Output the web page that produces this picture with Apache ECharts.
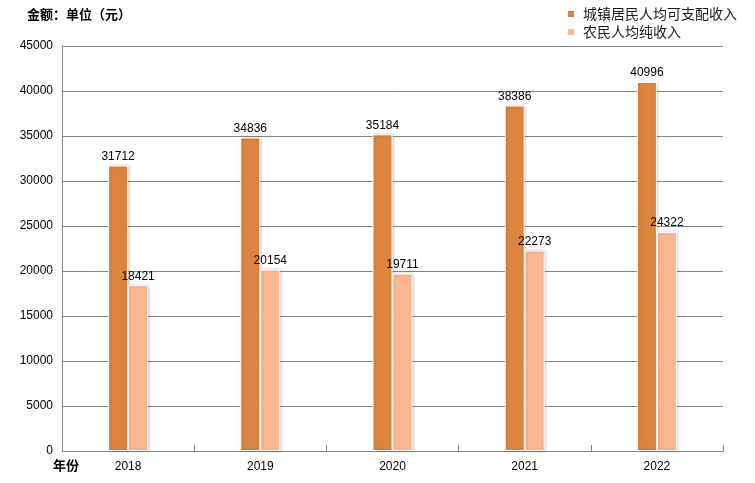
<!DOCTYPE html>
<html><head><meta charset="utf-8">
<script src="https://cdn.jsdelivr.net/npm/echarts@6/dist/echarts.min.js"></script>
<style>html,body{margin:0;padding:0;background:#fff}#c{width:755px;height:483px}</style>
</head><body><div id="c"></div>
<script>
const years = ['2018','2019','2020','2021','2022'];
const urban = [31712, 34836, 35184, 38386, 40996];
const rural = [18421, 20154, 19711, 22273, 24322];
const seriesNames = ['城镇居民人均可支配收入', '农民人均纯收入'];
const yTitle = '金额：单位（元）';
const xTitle = '年份';

const chart = echarts.init(document.getElementById('c'));
const barStyle = (color) => ({
  color: color, borderColor: '#fff', borderWidth: 1,
  shadowColor: 'rgba(0,0,0,0.22)', shadowBlur: 3, shadowOffsetX: 1, shadowOffsetY: 0
});
const lbl = {show: true, position: 'top', distance: 3, color: '#000', fontFamily: 'Liberation Sans', fontSize: 12};
chart.setOption({
  animation: false,
  grid: {left: 62, right: 32, top: 46, bottom: 32},
  legend: {
    orient: 'vertical', left: 566, top: 7, padding: 0, itemWidth: 8, itemHeight: 8, itemGap: 4,
    icon: 'rect',
    textStyle: {fontFamily: 'Noto Sans CJK SC', fontSize: 14, color: '#1a1a1a', padding: [0,0,0,3]},
    data: seriesNames
  },
  graphic: [
    {type: 'text', left: 27, top: 8, style: {text: yTitle, fontFamily: 'Noto Sans CJK SC', fontWeight: 'bold', fontSize: 13, fill: '#000'}},
    {type: 'text', left: 53, top: 459, style: {text: xTitle, fontFamily: 'Noto Sans CJK SC', fontWeight: 'bold', fontSize: 13, fill: '#000'}}
  ],
  xAxis: {
    type: 'category', data: years,
    axisLine: {lineStyle: {color: '#868686', width: 1}},
    axisTick: {show: true, inside: true, length: 6, alignWithLabel: false, lineStyle: {color: '#868686'}},
    axisLabel: {margin: 10, color: '#000', fontFamily: 'Liberation Sans', fontSize: 12}
  },
  yAxis: {
    type: 'value', min: 0, max: 45000, interval: 5000,
    axisLine: {show: true, lineStyle: {color: '#868686'}},
    axisTick: {show: false},
    splitLine: {lineStyle: {color: '#868686'}},
    axisLabel: {margin: 9, color: '#000', fontFamily: 'Liberation Sans', fontSize: 12, formatter: (v) => String(v)}
  },
  series: [
    {name: seriesNames[0], type: 'bar', data: urban, barWidth: 20, barGap: '0%', itemStyle: barStyle('#DB853F'), label: lbl},
    {name: seriesNames[1], type: 'bar', data: rural, barWidth: 20, barGap: '0%', itemStyle: barStyle('#FBB890'), label: lbl}
  ]
});
</script></body></html>
